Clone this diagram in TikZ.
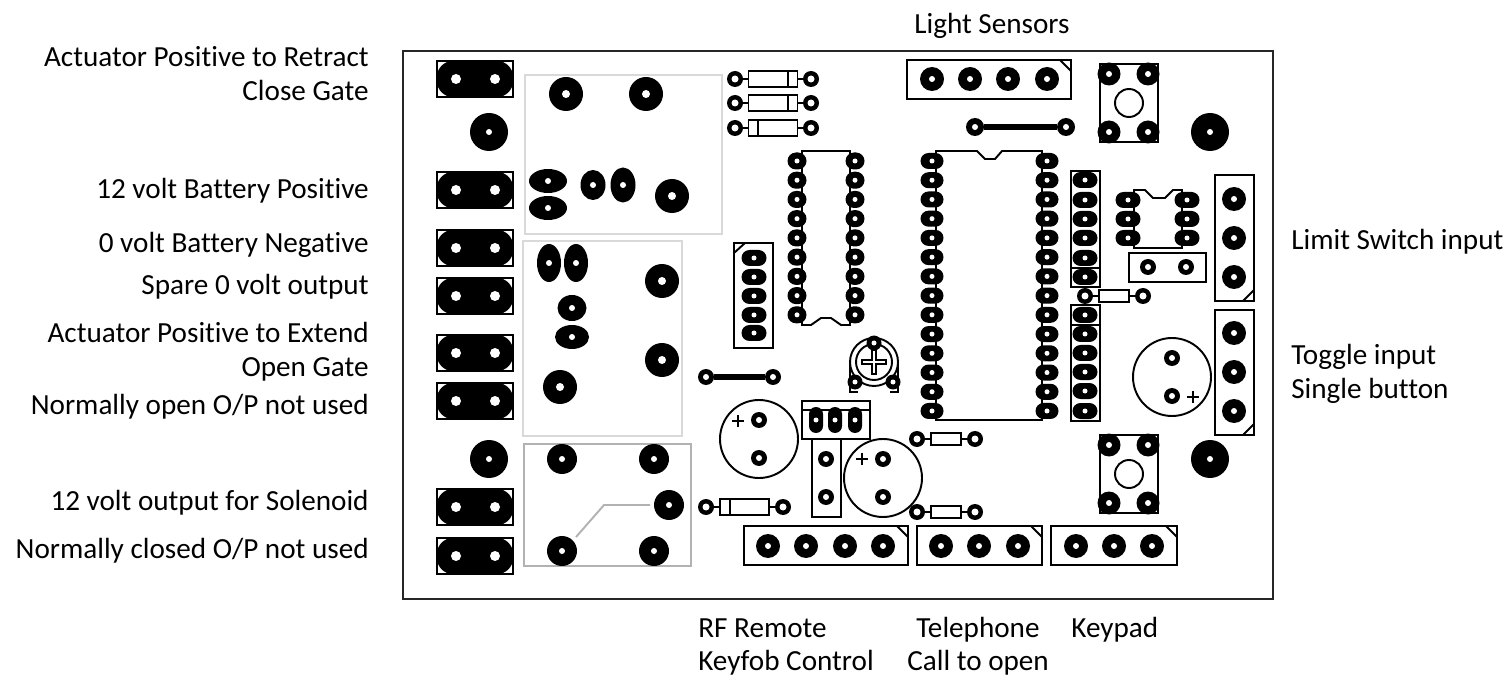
\documentclass[tikz,border=0pt]{standalone}
\usepackage{fontspec}
\setmainfont[Ligatures=NoCommon]{Carlito}
\usepackage{tikz}
\usetikzlibrary{shapes}
\usetikzlibrary{shapes.misc}
\tikzset{pad/.style={circle, fill=black, minimum size=2*#1*0.02cm, inner sep=0pt, outer sep=0pt}, pad/.default={8}}
\tikzset{hole/.style={circle, fill=white, minimum size=2*#1*0.02cm, inner sep=0pt, outer sep=0pt}, hole/.default={3}}
\tikzset{oval/.style n args={2}{ellipse, fill=black, minimum width=2*#1*0.02cm, minimum height=2*#2*0.02cm, inner sep=0pt, outer sep=0pt}}
\tikzset{stad/.style n args={2}{rounded rectangle, fill=black, minimum width=2*#1*0.02cm, minimum height=2*#2*0.02cm, inner sep=0pt, outer sep=0pt}}
\tikzset{body/.style n args={2}{rectangle, draw=black, fill=white, line width=1.1pt, minimum width=#1*0.02cm, minimum height=#2*0.02cm, inner sep=0pt}}
\tikzset{outl/.style={draw=black, line width=1.1pt}}
\tikzset{relay/.style={draw=#1, line width=1.1pt}}
\tikzset{lbl/.style={inner sep=0pt, font=\fontsize{16.6}{19}\selectfont}}
\tikzset{lblr/.style={lbl, anchor=base east}, lbll/.style={lbl, anchor=base west}}

\begin{document}
\begin{tikzpicture}[x=0.02cm, y=-0.02cm]
\useasboundingbox (0, 0) rectangle (1512, 682);
\draw[draw=black!85, line width=1.4pt] (403, 51) rectangle (1273, 599);

% screw terminals
\foreach \y in {79, 190, 248, 296, 353, 401, 507, 556} {
  \draw[outl] (437, \y-18) rectangle (513, \y+18);
  \fill[black, rounded corners=9pt] (437, \y-18) rectangle (513, \y+18);
  \draw (456, \y) node[hole=5]{};
  \draw (495, \y) node[hole=5]{};
}

% fixing holes
\foreach \x/\y in {489/132, 489/459, 1210/132, 1210/459} {
  \draw (\x, \y) node[pad=19]{} node[hole=3]{};
}

% relays
\draw[relay=black!15] (525, 75) rectangle (722, 234);
\draw[relay=black!15] (523, 241) rectangle (682, 436);
\draw[relay=black!30] (524, 444) rectangle (691, 566);
\foreach \x/\y in {566/94, 646/94, 672/196, 662/281, 662/360, 560/387} {
  \draw (\x, \y) node[pad=17]{} node[hole=4]{};
}
\foreach \x/\y/\a/\b in {548/181/19/12, 548/208/19/12, 593/185/12.5/15, 623/185/12.5/17.5, 549/263/12/19, 576/263/12/19, 572/308/14.5/13, 572/337/17/12} {
  \draw (\x, \y) node[oval={\a}{\b}]{} node[hole=3]{};
}
\foreach \x/\y in {562/459, 654/459, 669/505, 562/551, 654/551} {
  \draw (\x, \y) node[pad=15]{} node[hole=3]{};
}
\coordinate (bend) at (604, 505);
\coordinate (relayin) at (650, 505);
\coordinate (relayout) at (576, 537);
\draw[relay=black!30] (relayout) -- (bend) -- (relayin);

% diodes
\foreach \n/\xa/\xb/\y/\band in {1/735/811/79/788, 2/735/811/103/788, 3/735/811/128/758, 4/706/783/507/730} {
  \node[pad=8] (da\n) at (\xa, \y) {};
  \node[pad=8] (db\n) at (\xb, \y) {};
  \draw[outl] (da\n) -- (db\n);
  \node[body={49}{16}] (dbody\n) at ({(\xa+\xb)/2}, \y) {};
  \draw[outl] (\band, \y-8) -- (\band, \y+8);
  \draw (\xa, \y) node[hole=3.5]{};
  \draw (\xb, \y) node[hole=3.5]{};
}

% resistors
\foreach \n/\xa/\xb/\y in {1/1085/1143/296, 2/917/975/439, 3/917/975/512} {
  \node[pad=8] (ra\n) at (\xa, \y) {};
  \node[pad=8] (rb\n) at (\xb, \y) {};
  \draw[outl] (ra\n) -- (rb\n);
  \node[body={30}{12}] (rbody\n) at ({(\xa+\xb)/2}, \y) {};
  \draw (\xa, \y) node[hole=3.5]{};
  \draw (\xb, \y) node[hole=3.5]{};
}

% wire links
\node[pad=9] (linka) at (975, 127) {};
\node[pad=9] (linkb) at (1066, 127) {};
\node[pad=8] (linkc) at (706, 377) {};
\node[pad=8] (linkd) at (773, 377) {};
\draw[line width=3pt] (linka) -- (linkb);
\draw[line width=3pt] (linkc) -- (linkd);
\foreach \x/\y in {975/127, 1066/127, 706/377, 773/377} {
  \draw (\x, \y) node[hole=3]{};
}

% ic1
\draw[outl] (802, 151) -- (850, 151) -- (850, 325) -- (841, 325) -- (831, 318) -- (821, 318) -- (811, 325) -- (802, 325) -- cycle;
\foreach \i in {0, ..., 8} {
  \draw (797, {161+\i*19.23}) node[stad={9.5}{8.5}]{} node[hole=2.5]{};
  \draw (855, {161+\i*19.23}) node[stad={9.5}{8.5}]{} node[hole=2.5]{};
}

% ic2
\draw[outl] (936, 151) -- (977, 151) -- (985, 159) -- (995, 159) -- (1002, 151) -- (1042, 151) -- (1042, 420) -- (936, 420) -- cycle;
\foreach \i in {0, ..., 13} {
  \draw (932, {161+\i*19.23}) node[stad={11.5}{8}]{} node[hole=2.5]{};
  \draw (1047, {161+\i*19.23}) node[stad={11.5}{8}]{} node[hole=2.5]{};
}

% ic3
\draw[outl] (1134, 190) -- (1145, 190) -- (1153, 198) -- (1165, 198) -- (1173, 190) -- (1182, 190) -- (1182, 248) -- (1134, 248) -- cycle;
\foreach \y in {200, 219, 238} {
  \draw (1128, \y) node[stad={12.5}{8}]{} node[hole=2.5]{};
  \draw (1187, \y) node[stad={12.5}{8}]{} node[hole=2.5]{};
}
\draw[outl] (1129, 253) rectangle (1206, 282);
\foreach \x in {1148, 1186} {
  \draw (\x, 267) node[pad=8]{} node[hole=3]{};
}

% six way strips
\foreach \t/\d in {171/268, 305/325} {
  \draw[outl] (1071, \t) rectangle (1100, \t+116);
  \draw[outl] (1071, \d) -- (1100, \d);
}
\foreach \y in {180, 200, 219, 238, 258, 277, 315, 334, 353, 372, 391, 411} {
  \draw (1085, \y) node[stad={12.5}{8}]{} node[hole=2.5]{};
}

% five way strip
\draw[outl] (734, 243) rectangle (773, 348);
\draw[outl] (734, 253) -- (745, 243);
\foreach \y in {258, 277, 296, 315, 333} {
  \draw (754, \y) node[stad={12.5}{8}]{} node[hole=2.5]{};
}

% headers
\draw[outl] (907, 60) rectangle (1071, 99);
\draw[outl] (1060, 60) -- (1071, 71);
\foreach \x in {932, 970, 1008, 1047} {
  \draw (\x, 79) node[pad=12]{} node[hole=3]{};
}
\draw[outl] (744, 526) rectangle (908, 565);
\draw[outl] (897, 526) -- (908, 537);
\foreach \x in {768, 806, 845, 883} {
  \draw (\x, 546) node[pad=12]{} node[hole=3]{};
}
\draw[outl] (917, 526) rectangle (1042, 565);
\draw[outl] (1031, 526) -- (1042, 537);
\foreach \x in {941, 979, 1018} {
  \draw (\x, 546) node[pad=12]{} node[hole=3]{};
}
\draw[outl] (1051, 526) rectangle (1177, 565);
\draw[outl] (1166, 526) -- (1177, 537);
\foreach \x in {1076, 1114, 1152} {
  \draw (\x, 546) node[pad=12]{} node[hole=3]{};
}
\draw[outl] (1215, 175) rectangle (1254, 301);
\draw[outl] (1243, 301) -- (1254, 290);
\draw[outl] (1215, 310) rectangle (1254, 435);
\draw[outl] (1243, 435) -- (1254, 424);
\foreach \y in {199, 238, 277, 333, 372, 411} {
  \draw (1234, \y) node[pad=12]{} node[hole=3]{};
}

% push buttons
\foreach \t in {64, 435} {
  \draw[outl] (1100, \t) rectangle (1158, \t+78);
  \draw[outl] (1129, \t+39) circle (14);
  \foreach \x in {1109, 1148} {
    \draw (\x, \t+10) node[pad=11.5]{} node[hole=3]{};
    \draw (\x, \t+68) node[pad=11.5]{} node[hole=3]{};
  }
}

% capacitors
\foreach \x/\y/\px/\py in {1172/377/1193/397, 883/478/862/459, 759/439/738/421} {
  \draw[outl] (\x, \y) circle (39);
  \draw (\x, \y-19) node[pad=8]{} node[hole=3]{};
  \draw (\x, \y+19) node[pad=8]{} node[hole=3]{};
  \draw[outl] (\px-6, \py) -- (\px+6, \py);
  \draw[outl] (\px, \py-6) -- (\px, \py+6);
}

% trimmer
\draw[outl] (850, 362) -- (850, 392) -- (858, 392);
\draw[outl] (898, 362) -- (898, 392) -- (890, 392);
\draw[outl] (874, 362) circle (24);
\draw[outl, fill=white] (874, 362) circle (18);
\draw[outl] (862, 360) -- (872, 360) -- (872, 350) -- (876, 350) -- (876, 360) -- (886, 360) -- (886, 364) -- (876, 364) -- (876, 374) -- (872, 374) -- (872, 364) -- (862, 364) -- cycle;
\foreach \x/\y in {874/343, 855/382, 893/382} {
  \draw (\x, \y) node[pad=7.5]{} node[hole=2.5]{};
}

% regulator
\draw[outl] (802, 401) rectangle (870, 439);
\draw[outl] (802, 410) -- (870, 410);
\draw[outl] (812, 439) rectangle (841, 517);
\foreach \x in {816, 835, 855} {
  \draw (\x, 420) node[stad={13}{7}, rotate=90]{} node[hole=2.5]{};
}
\foreach \y in {459, 497} {
  \draw (826, \y) node[pad=8]{} node[hole=3]{};
}

% labels
\node[lblr] (retract) at (369, 67) {Actuator Positive to Retract};
\node[lblr] (close) at (369, 101) {Close Gate};
\node[lblr] (batpos) at (369, 198.5) {12 volt Battery Positive};
\node[lblr] (batneg) at (369, 253) {0 volt Battery Negative};
\node[lblr] (spare) at (369, 295) {Spare 0 volt output};
\node[lblr] (extend) at (369, 342) {Actuator Positive to Extend};
\node[lblr] (open) at (369, 377) {Open Gate};
\node[lblr] (nopen) at (369, 415) {Normally open O/P not used};
\node[lblr] (solenoid) at (369, 510.5) {12 volt output for Solenoid};
\node[lblr] (nclosed) at (369, 558) {Normally closed O/P not used};
\node[lbll] (sensors) at (914, 34) {Light Sensors};
\node[lbll] (limit) at (1291, 250) {Limit Switch input};
\node[lbll] (toggle) at (1291, 364) {Toggle input};
\node[lbll] (single) at (1291, 398.5) {Single button};
\node[lbll] (remote) at (698, 637) {RF Remote};
\node[lbll] (keyfob) at (698, 670) {Keyfob Control};
\node[lbll] (phone) at (916, 637) {Telephone};
\node[lbll] (call) at (907, 670) {Call to open};
\node[lbll] (keypad) at (1071, 637) {Keypad};
\end{tikzpicture}
\end{document}
